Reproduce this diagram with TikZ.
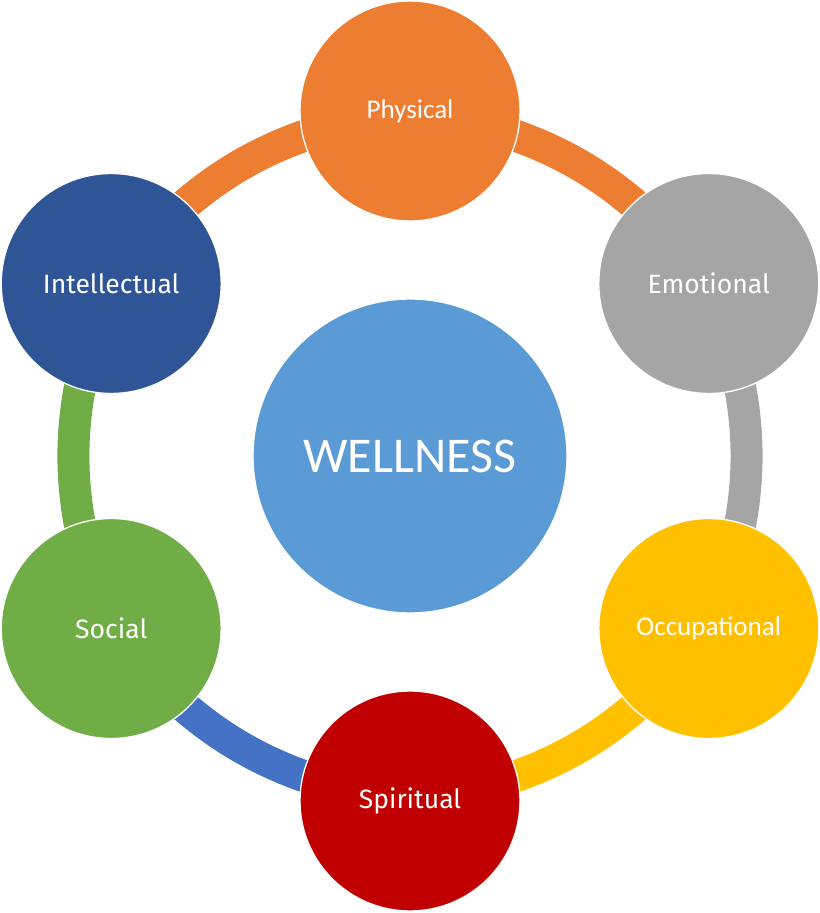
\documentclass[tikz,border=0pt]{standalone}
\usepackage{fontspec}
\setmainfont{Carlito}
\newfontfamily\squarefont{Fira Sans}
\usetikzlibrary{positioning,backgrounds}
\definecolor{hubcol}{HTML}{5B9BD5}
\definecolor{physcol}{HTML}{ED7D31}
\definecolor{emocol}{HTML}{A5A5A5}
\definecolor{occcol}{HTML}{FFC000}
\definecolor{spicol}{HTML}{C00000}
\definecolor{soccol}{HTML}{70AD47}
\definecolor{intcol}{HTML}{2F5597}
\definecolor{linkcol}{HTML}{4472C4}
\tikzset{
  hub/.style={circle, draw=white, line width=1pt, fill=hubcol, minimum size=235.5pt, inner sep=0pt, text=white, font=\fontsize{37.5}{42}\selectfont},
  facet/.style={circle, draw=white, line width=1pt, minimum size=165pt, inner sep=0pt, text=white, font=\fontsize{20.3}{24}\selectfont},
  sqfacet/.style={facet, font=\squarefont\fontsize{19.9}{24}\selectfont},
  ring/.style={line width=24pt}
}
\begin{document}
\begin{tikzpicture}[x=0.75pt,y=0.75pt]
  \node[hub] (well) at (0,0) {WELLNESS};
  \node[facet, fill=physcol] (phys) at (90:345) {Physical};
  \node[sqfacet, fill=emocol] (emo) at (30:345) {Emotional};
  \node[facet, fill=occcol] (occ) at (-30:345) {Occupational};
  \node[sqfacet, fill=spicol] (spi) at (-90:345) {Spiritual};
  \node[sqfacet, fill=soccol] (soc) at (210:345) {Social};
  \node[sqfacet, fill=intcol] (int) at (150:345) {Intellectual};
  \begin{scope}[on background layer]
    \fill[white] (-410,-457) rectangle (410,456);
    \draw[ring, physcol] (int.center) to[bend left=22] (phys.center);
    \draw[ring, physcol] (phys.center) to[bend left=22] (emo.center);
    \draw[ring, emocol] (emo.center) to[bend left=22] (occ.center);
    \draw[ring, occcol] (occ.center) to[bend left=22] (spi.center);
    \draw[ring, linkcol] (spi.center) to[bend left=22] (soc.center);
    \draw[ring, soccol] (soc.center) to[bend left=22] (int.center);
  \end{scope}
  \useasboundingbox (-410,-457) rectangle (410,456);
\end{tikzpicture}
\end{document}
